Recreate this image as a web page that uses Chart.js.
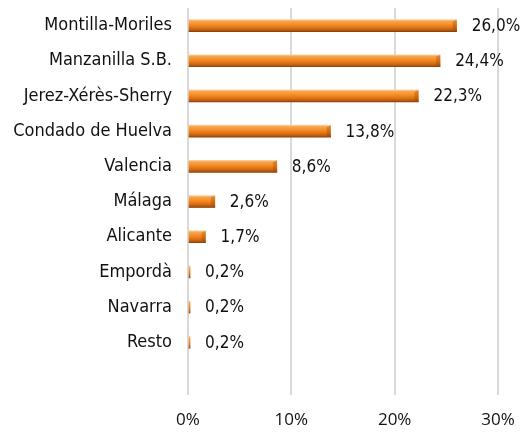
<!DOCTYPE html>
<html>
<head>
<meta charset="utf-8">
<script src="https://cdn.jsdelivr.net/npm/chart.js@4"></script>
<style>
  html, body { margin: 0; padding: 0; background: #fff; }
  #wrap { width: 520px; height: 432px; }
</style>
</head>
<body>
<div id="wrap"><canvas id="grafico" width="520" height="432"></canvas></div>
<script>
const categorias = ['Montilla-Moriles', 'Manzanilla S.B.', 'Jerez-Xérès-Sherry', 'Condado de Huelva', 'Valencia', 'Málaga', 'Alicante', 'Empordà', 'Navarra', 'Resto', ''];
const porcentajes = [26.0, 24.4, 22.3, 13.8, 8.6, 2.6, 1.7, 0.2, 0.2, 0.2, null];
const ticksX = [0, 10, 20, 30];

const fuente = '"DejaVu Sans Condensed", "DejaVu Sans"';

function formatear(v) {
  return v.toFixed(1).replace('.', ',') + '%';
}

// degradado naranja tipo Excel, calculado con la escala y
function relleno(context) {
  const chart = context.chart;
  const escala = chart.scales.y;
  if (!escala) return '#f08a22';
  const y = escala.getPixelForValue(context.dataIndex);
  if (!Number.isFinite(y)) return '#f08a22';
  const h = 12;
  const g = chart.ctx.createLinearGradient(0, y - h / 2, 0, y + h / 2);
  g.addColorStop(0, '#fcd3a6');
  g.addColorStop(0.12, '#f9a650');
  g.addColorStop(0.45, '#f28a22');
  g.addColorStop(0.7, '#dc7014');
  g.addColorStop(0.9, '#b4580e');
  g.addColorStop(1, '#8a400a');
  return g;
}

// extremo del "cilindro" y etiquetas con el valor
const etiquetas = {
  id: 'etiquetas',
  afterDatasetsDraw(chart) {
    const ctx = chart.ctx;
    const meta = chart.getDatasetMeta(0);
    ctx.save();
    meta.data.forEach((bar, i) => {
      const v = porcentajes[i];
      if (v === null) return;
      const ancho = bar.x - bar.base;
      if (ancho > 8) {
        ctx.fillStyle = 'rgba(140, 60, 0, 0.3)';
        ctx.beginPath();
        ctx.moveTo(bar.x - 4, bar.y - 4);
        ctx.lineTo(bar.x, bar.y - 6);
        ctx.lineTo(bar.x, bar.y + 6);
        ctx.lineTo(bar.x - 4, bar.y + 4);
        ctx.closePath();
        ctx.fill();
      }
    });
    ctx.font = '17px ' + fuente;
    ctx.fillStyle = '#111';
    ctx.textBaseline = 'middle';
    ctx.textAlign = 'left';
    meta.data.forEach((bar, i) => {
      const v = porcentajes[i];
      if (v === null) return;
      ctx.fillText(formatear(v), bar.x + 15, bar.y + 1);
    });
    ctx.restore();
  }
};

new Chart(document.getElementById('grafico'), {
  type: 'bar',
  data: {
    labels: categorias,
    datasets: [{
      data: porcentajes,
      backgroundColor: relleno,
      borderWidth: 0,
      barThickness: 12
    }]
  },
  options: {
    indexAxis: 'y',
    responsive: false,
    animation: false,
    layout: { padding: { top: 8, right: 22, left: 0, bottom: 0 } },
    plugins: {
      legend: { display: false },
      tooltip: { enabled: false }
    },
    scales: {
      x: {
        min: 0,
        max: 30,
        afterBuildTicks(axis) {
          axis.ticks = ticksX.map(v => ({ value: v }));
        },
        afterFit(axis) {
          axis.height = 37;
          axis.paddingLeft = 0;
          axis.paddingRight = 0;
        },
        grid: { color: '#d9d9d9', lineWidth: 2, drawTicks: false },
        border: { display: false },
        ticks: {
          padding: 15,
          color: '#111',
          font: { family: 'Open Sans', size: 17 },
          callback: v => v + '%'
        }
      },
      y: {
        afterFit(axis) {
          axis.width = 188;
          axis.paddingTop = 0;
          axis.paddingBottom = 0;
        },
        grid: { display: false, drawTicks: false },
        border: { display: false },
        ticks: {
          padding: 16,
          color: '#111',
          font: { family: fuente, size: 18 }
        }
      }
    }
  },
  plugins: [etiquetas]
});
</script>
</body>
</html>
